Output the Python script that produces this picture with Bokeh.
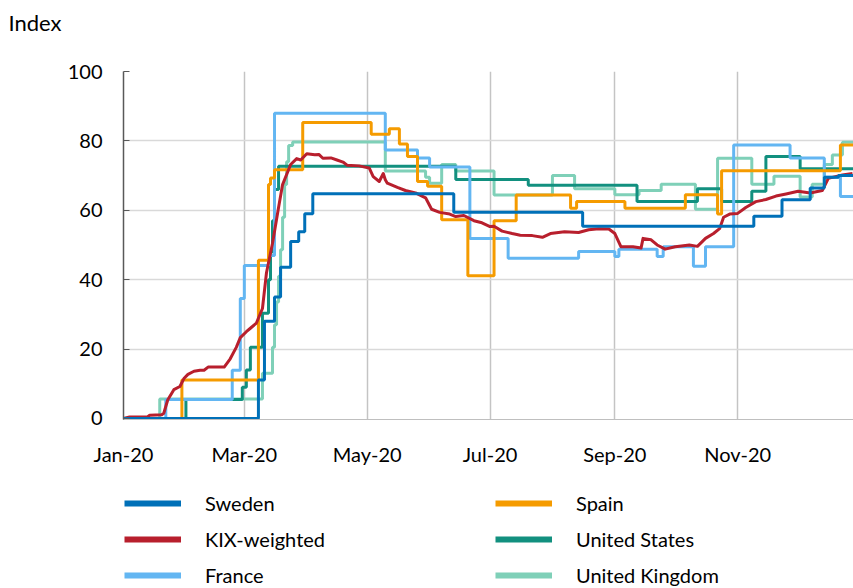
import pandas as pd
from bokeh.plotting import figure
from bokeh.layouts import column
from bokeh.models import Range1d, FixedTicker, Legend, LegendItem, ColumnDataSource
from bokeh.embed import file_html
from bokeh.resources import INLINE

# ---------------- data ----------------
x_start = "2020-01-01"
x_end = "2020-12-28 12:00"

tick_dates = ["2020-01-01", "2020-03-01", "2020-05-01", "2020-07-01", "2020-09-01", "2020-11-01"]
tick_labels = ["Jan-20", "Mar-20", "May-20", "Jul-20", "Sep-20", "Nov-20"]
y_ticks = [0, 20, 40, 60, 80, 100]

sweden_dates = ["2020-01-01", "2020-03-08", "2020-03-11", "2020-03-16", "2020-03-19", "2020-03-24",
                "2020-03-28", "2020-03-31", "2020-04-04", "2020-06-13", "2020-08-16", "2020-11-09",
                "2020-11-23", "2020-12-07", "2020-12-14", "2020-12-21"]
sweden_vals = [0, 11.1, 28, 35, 43.6, 51, 53.8, 59, 64.8, 59.4, 55.4, 58.3, 63, 66.4, 69.5, 70]

spain_dates = ["2020-01-01", "2020-01-30", "2020-03-08", "2020-03-13", "2020-03-14", "2020-03-16",
               "2020-03-30", "2020-05-03", "2020-05-12", "2020-05-17", "2020-05-21", "2020-05-26",
               "2020-05-31", "2020-06-07", "2020-06-20", "2020-07-03", "2020-07-14", "2020-08-10",
               "2020-08-13", "2020-09-06", "2020-10-06", "2020-10-22", "2020-10-24", "2020-12-22"]
spain_vals = [0, 11.1, 45.6, 67.4, 69.3, 71.7, 85.3, 81.9, 83.5, 79.1, 75.5, 68.3, 66.9, 57.3, 41.1,
              57, 64.4, 60.6, 62.5, 60.6, 64.5, 58.9, 71.4, 78.8]

france_dates = ["2020-01-01", "2020-01-22", "2020-02-24", "2020-02-28", "2020-03-01", "2020-03-13",
                "2020-03-16", "2020-05-10", "2020-05-26", "2020-06-01", "2020-06-21", "2020-07-10",
                "2020-08-14", "2020-09-01", "2020-09-03", "2020-09-22", "2020-09-25", "2020-10-10",
                "2020-10-16", "2020-10-30", "2020-11-27", "2020-12-14", "2020-12-22"]
france_vals = [0, 5.5, 13.9, 34.6, 44.1, 47, 88, 77.4, 75.1, 72.5, 51.9, 46.2, 48.1, 46.7, 48.8,
               46.7, 49.5, 43.9, 49.5, 78.8, 75.1, 69.5, 64]

us_dates = ["2020-01-01", "2020-02-01", "2020-02-29", "2020-03-02", "2020-03-04", "2020-03-10",
            "2020-03-13", "2020-03-14", "2020-03-15", "2020-03-16", "2020-03-18", "2020-06-14",
            "2020-07-20", "2020-09-12", "2020-10-12", "2020-10-24", "2020-11-08", "2020-11-15",
            "2020-12-02"]
us_vals = [0, 5.5, 9, 14, 20.5, 30.3, 40, 48, 57, 66, 72.7, 68.9, 67.2, 62.5, 66.2, 62.5, 65.5,
           75.5, 72]

uk_dates = ["2020-01-01", "2020-01-19", "2020-03-10", "2020-03-15", "2020-03-16", "2020-03-17",
            "2020-03-18", "2020-03-19", "2020-03-20", "2020-03-21", "2020-03-22", "2020-03-23",
            "2020-03-25", "2020-05-10", "2020-05-30", "2020-06-01", "2020-06-07", "2020-06-14",
            "2020-07-03", "2020-08-01", "2020-08-12", "2020-09-01", "2020-09-13", "2020-09-24",
            "2020-10-11", "2020-10-22", "2020-11-08", "2020-11-19", "2020-12-02", "2020-12-08",
            "2020-12-14", "2020-12-18", "2020-12-23"]
uk_vals = [0, 5.6, 13, 20.5, 27, 33.6, 41, 48.6, 58, 67.4, 74, 78.7, 79.7, 71.3, 69.5, 67.8, 73.2,
           71.3, 64.4, 70, 66.2, 64.5, 65.7, 67.5, 60.3, 75, 67.5, 69.8, 63.8, 67.5, 73.2, 75.9, 79.6]

kix_dates = ["2020-01-01", "2020-01-04", "2020-01-13", "2020-01-14", "2020-01-20", "2020-01-21",
             "2020-01-23", "2020-01-26", "2020-01-29", "2020-01-31", "2020-02-02", "2020-02-05",
             "2020-02-08", "2020-02-10", "2020-02-12", "2020-02-20", "2020-02-21", "2020-02-23",
             "2020-02-26", "2020-02-28", "2020-03-02", "2020-03-04", "2020-03-07", "2020-03-10",
             "2020-03-12", "2020-03-15", "2020-03-18", "2020-03-20", "2020-03-24", "2020-03-27",
             "2020-03-29", "2020-04-01", "2020-04-05", "2020-04-07", "2020-04-09", "2020-04-13",
             "2020-04-16", "2020-04-19", "2020-04-21", "2020-04-27", "2020-05-02", "2020-05-04",
             "2020-05-07", "2020-05-09", "2020-05-10", "2020-05-11", "2020-05-16", "2020-05-20",
             "2020-05-25", "2020-05-30", "2020-06-02", "2020-06-06", "2020-06-11", "2020-06-14",
             "2020-06-18", "2020-06-23", "2020-06-27", "2020-07-01", "2020-07-03", "2020-07-07",
             "2020-07-12", "2020-07-16", "2020-07-22", "2020-07-27", "2020-07-31", "2020-08-07",
             "2020-08-14", "2020-08-19", "2020-08-24", "2020-08-29", "2020-09-01", "2020-09-04",
             "2020-09-10", "2020-09-14", "2020-09-15", "2020-09-19", "2020-09-22", "2020-09-26",
             "2020-10-01", "2020-10-08", "2020-10-12", "2020-10-16", "2020-10-20", "2020-10-23",
             "2020-10-25", "2020-10-28", "2020-11-01", "2020-11-05", "2020-11-10", "2020-11-15",
             "2020-11-20", "2020-11-25", "2020-12-01", "2020-12-07", "2020-12-13", "2020-12-16",
             "2020-12-23", "2020-12-28"]
kix_vals = [0, 0.4, 0.5, 0.9, 1.1, 1.5, 5.4, 8.3, 9.2, 11.5, 12.7, 13.6, 13.9, 13.9, 14.8, 14.8,
            15.6, 17.2, 20.5, 23.3, 25, 26, 27.5, 31.7, 42, 50.5, 60.8, 67.4, 73.2, 74.9, 74.5,
            76.3, 76, 76.1, 75, 75.1, 74.5, 73.9, 73, 72.8, 72.2, 69.7, 68.3, 70.6, 68.8, 67.8,
            66.6, 65.7, 65, 63.6, 60.3, 59.4, 58.9, 58.2, 58.5, 57, 56.4, 55.3, 55.4, 54, 53.3,
            52.8, 52.7, 52.2, 53.3, 53.8, 53.6, 54.4, 54.7, 54.6, 53.3, 49.5, 49.5, 49.1, 51.9,
            51.5, 50, 48.8, 49.5, 50, 49.6, 51.9, 53.3, 54.7, 58, 58.9, 59.1, 60.8, 62.5, 63.1,
            64.1, 64.7, 65.5, 65, 65.7, 69.2, 70.2, 70.6]

colors = {
    "Sweden": "#0070B8",
    "KIX-weighted": "#B81F2D",
    "France": "#63B6F2",
    "Spain": "#F59B00",
    "United States": "#12907F",
    "United Kingdom": "#7FD0B8",
}

FONT = "Lato"

# ---------------- main chart ----------------
p = figure(width=853, height=468, x_axis_type="datetime", output_backend="svg",
           toolbar_location=None, min_border_left=123, min_border_right=0,
           min_border_top=71, min_border_bottom=41,
           x_range=Range1d(pd.Timestamp(x_start), pd.Timestamp(x_end)),
           y_range=Range1d(-0.3, 100))
p.outline_line_color = None
p.background_fill_color = "white"
p.border_fill_color = "white"

p.title.text = "Index"
p.title.align = "left"
p.title.offset = -115
p.title.standoff = 0
p.title.vertical_align = "top"
p.title.padding = (0, 0, 8, 34)   # (left, right, top, bottom)
p.title.text_font = FONT
p.title.text_font_size = "22px"
p.title.text_font_style = "normal"
p.title.text_color = "#000000"

tick_ms = [pd.Timestamp(d).value / 1e6 for d in tick_dates]
p.xaxis.ticker = FixedTicker(ticks=tick_ms)
p.xaxis.major_label_overrides = {t: lab for t, lab in zip(tick_ms, tick_labels)}
p.xaxis.major_tick_line_color = None
p.xaxis.minor_tick_line_color = None
p.xaxis.axis_line_color = "#BFBFBF"
p.xaxis.major_label_standoff = 16
p.xaxis.major_label_text_font = FONT
p.xaxis.major_label_text_font_size = "20px"
p.xaxis.major_label_text_color = "#000000"

p.yaxis.ticker = FixedTicker(ticks=y_ticks)
p.yaxis.major_tick_in = 6
p.yaxis.major_tick_out = 0
p.yaxis.minor_tick_line_color = None
p.yaxis.axis_line_color = "#595959"
p.yaxis.major_tick_line_color = "#595959"
p.yaxis.axis_line_width = 1.5
p.yaxis.major_label_standoff = 21
p.yaxis.major_label_text_font = FONT
p.yaxis.major_label_text_font_size = "20px"
p.yaxis.major_label_text_color = "#000000"

p.xgrid.ticker = FixedTicker(ticks=tick_ms[1:])
p.xgrid.grid_line_color = "#C4C4C4"
p.xgrid.grid_line_width = 1.5
p.ygrid.ticker = FixedTicker(ticks=y_ticks[1:])
p.ygrid.grid_line_color = "#D9D9D9"
p.ygrid.grid_line_width = 1.5

end_ts = pd.Timestamp(x_end)


def step_src(dates, vals):
    xs = list(pd.to_datetime(dates)) + [end_ts]
    ys = list(vals) + [vals[-1]]
    return ColumnDataSource(dict(x=xs, y=ys))


LW = 3
p.step("x", "y", source=step_src(uk_dates, uk_vals), mode="after", line_width=LW,
       line_color=colors["United Kingdom"])
p.step("x", "y", source=step_src(us_dates, us_vals), mode="after", line_width=LW,
       line_color=colors["United States"])
p.step("x", "y", source=step_src(france_dates, france_vals), mode="after", line_width=LW,
       line_color=colors["France"])
p.step("x", "y", source=step_src(spain_dates, spain_vals), mode="after", line_width=LW,
       line_color=colors["Spain"])
p.line(x=list(pd.to_datetime(kix_dates)), y=kix_vals, line_width=LW,
       line_color=colors["KIX-weighted"], line_join="round")
p.step("x", "y", source=step_src(sweden_dates, sweden_vals), mode="after", line_width=LW,
       line_color=colors["Sweden"])

# ---------------- legend panel ----------------
lg = figure(width=853, height=120, output_backend="svg", toolbar_location=None,
            x_axis_location=None, y_axis_location=None,
            min_border_left=0, min_border_right=0, min_border_top=0, min_border_bottom=0,
            x_range=Range1d(0, 1), y_range=Range1d(0, 1))
lg.outline_line_color = None
lg.grid.visible = False
lg.border_fill_color = "white"
lg.background_fill_color = "white"


def swatch(name):
    # legend-only renderer: a single NaN point draws nothing in the panel
    return lg.line(x=[float("nan")], y=[float("nan")], line_width=6, line_color=colors[name])


col1 = ["Sweden", "KIX-weighted", "France"]
col2 = ["Spain", "United States", "United Kingdom"]


def make_legend(names, loc):
    leg = Legend(items=[LegendItem(label=n, renderers=[swatch(n)]) for n in names],
                 location=loc, orientation="vertical")
    leg.glyph_width = 57
    leg.glyph_height = 24
    leg.label_height = 24
    leg.spacing = 12
    leg.padding = 0
    leg.margin = 0
    leg.label_standoff = 24
    leg.label_text_font = FONT
    leg.label_text_font_size = "20px"
    leg.label_text_color = "#000000"
    leg.border_line_alpha = 0
    leg.background_fill_alpha = 0
    return leg


# the legend panel's frame is aligned with the chart's frame (x measured from frame left)
lg.add_layout(make_legend(col1, (1, 1)))
lg.add_layout(make_legend(col2, (372, 1)))

layout = column(p, lg, spacing=0)

open("out.html", "w").write(file_html(layout, INLINE))
